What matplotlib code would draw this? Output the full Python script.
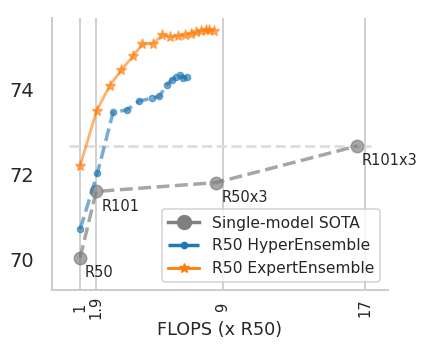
import matplotlib
matplotlib.use("Agg")
import matplotlib.pyplot as plt
from matplotlib.lines import Line2D

# ---- data ----
sota_names = ["R50", "R101", "R50x3", "R101x3"]
sota_flops = [1.0, 1.9, 8.64, 16.54]
sota_acc = [70.05, 71.61, 71.82, 72.68]

hyper_flops = [1.0, 1.97, 2.85, 3.63, 4.33, 5.02, 5.45, 5.85, 6.15, 6.40, 6.61, 6.80, 7.02]
hyper_acc = [70.72, 72.04, 73.47, 73.53, 73.74, 73.80, 73.85, 74.11, 74.24, 74.30, 74.36, 74.28, 74.30]

expert_flops = [1.0, 1.93, 2.65, 3.30, 3.96, 4.49, 5.10, 5.61, 6.07, 6.47, 6.90, 7.20, 7.50, 7.79, 8.06, 8.26, 8.53]
expert_acc = [72.22, 73.51, 74.09, 74.46, 74.79, 75.08, 75.08, 75.30, 75.24, 75.27, 75.29, 75.32, 75.35, 75.39, 75.40, 75.40, 75.39]

xtick_vals = [1, 1.9, 9, 17]
xtick_labels = ["1", "1.9", "9", "17"]
ytick_vals = [70, 72, 74]

TXT = "#262626"
LIGHT = "#cccccc"

fig = plt.figure(figsize=(4.28, 3.47), dpi=100)
ax = fig.add_axes([0.121, 0.164, 0.786, 0.784])

ax.plot(sota_flops, sota_acc, color="gray", linestyle="--", lw=2.5,
        marker="o", markersize=9, alpha=0.7, zorder=3)
ax.plot(hyper_flops, hyper_acc, color="#1f77b4", linestyle="--", lw=2.5,
        marker="o", markersize=4.5, alpha=0.6, zorder=4)
ax.plot(expert_flops, expert_acc, color="#ff7f0e", linestyle="-", lw=2,
        marker="*", markersize=8, alpha=0.6, zorder=5)

ax.axhline(sota_acc[-1], xmin=0.05, xmax=0.95, color="#dddddd", lw=2,
           linestyle="--", zorder=1)

for name, x, y in zip(sota_names, sota_flops, sota_acc):
    ax.annotate(name, (x, y), xytext=(5, -15), textcoords="offset pixels",
                ha="left", va="center", fontsize=10.5, color=TXT, zorder=6)

ax.set_xlim(-0.59, 18.29)
ax.set_ylim(69.29, 75.69)
ax.set_xticks(xtick_vals)
ax.set_xticklabels(xtick_labels, rotation=90, va="center", fontsize=10.5, color=TXT)
ax.set_yticks(ytick_vals)
ax.set_yticklabels([str(v) for v in ytick_vals], fontsize=14, color=TXT)
ax.tick_params(axis="both", length=0, pad=12.6)

ax.grid(axis="x", color=LIGHT, lw=1.3)
ax.grid(axis="y", visible=False)
ax.set_axisbelow(True)

for s in ["top", "right"]:
    ax.spines[s].set_visible(False)
for s in ["left", "bottom"]:
    ax.spines[s].set_color(LIGHT)
    ax.spines[s].set_linewidth(1.4)

ax.set_xlabel("FLOPS (x R50)", fontsize=12.7, color=TXT, labelpad=1)

handles = [
    Line2D([], [], color="gray", lw=2.5, marker="o", markersize=10),
    Line2D([], [], color="#1f77b4", lw=2.5, linestyle="--", marker="o", markersize=4.5),
    Line2D([], [], color="#ff7f0e", lw=2, marker="*", markersize=7),
]
labels = ["Single-model SOTA", "R50 HyperEnsemble", "R50 ExpertEnsemble"]
leg = ax.legend(handles, labels, loc="lower right", fontsize=11.2, frameon=True,
                fancybox=True, borderaxespad=0.5)
leg.get_frame().set_edgecolor(LIGHT)
leg.get_frame().set_linewidth(1.2)
for t in leg.get_texts():
    t.set_color(TXT)

fig.savefig("out.png", dpi=100)
